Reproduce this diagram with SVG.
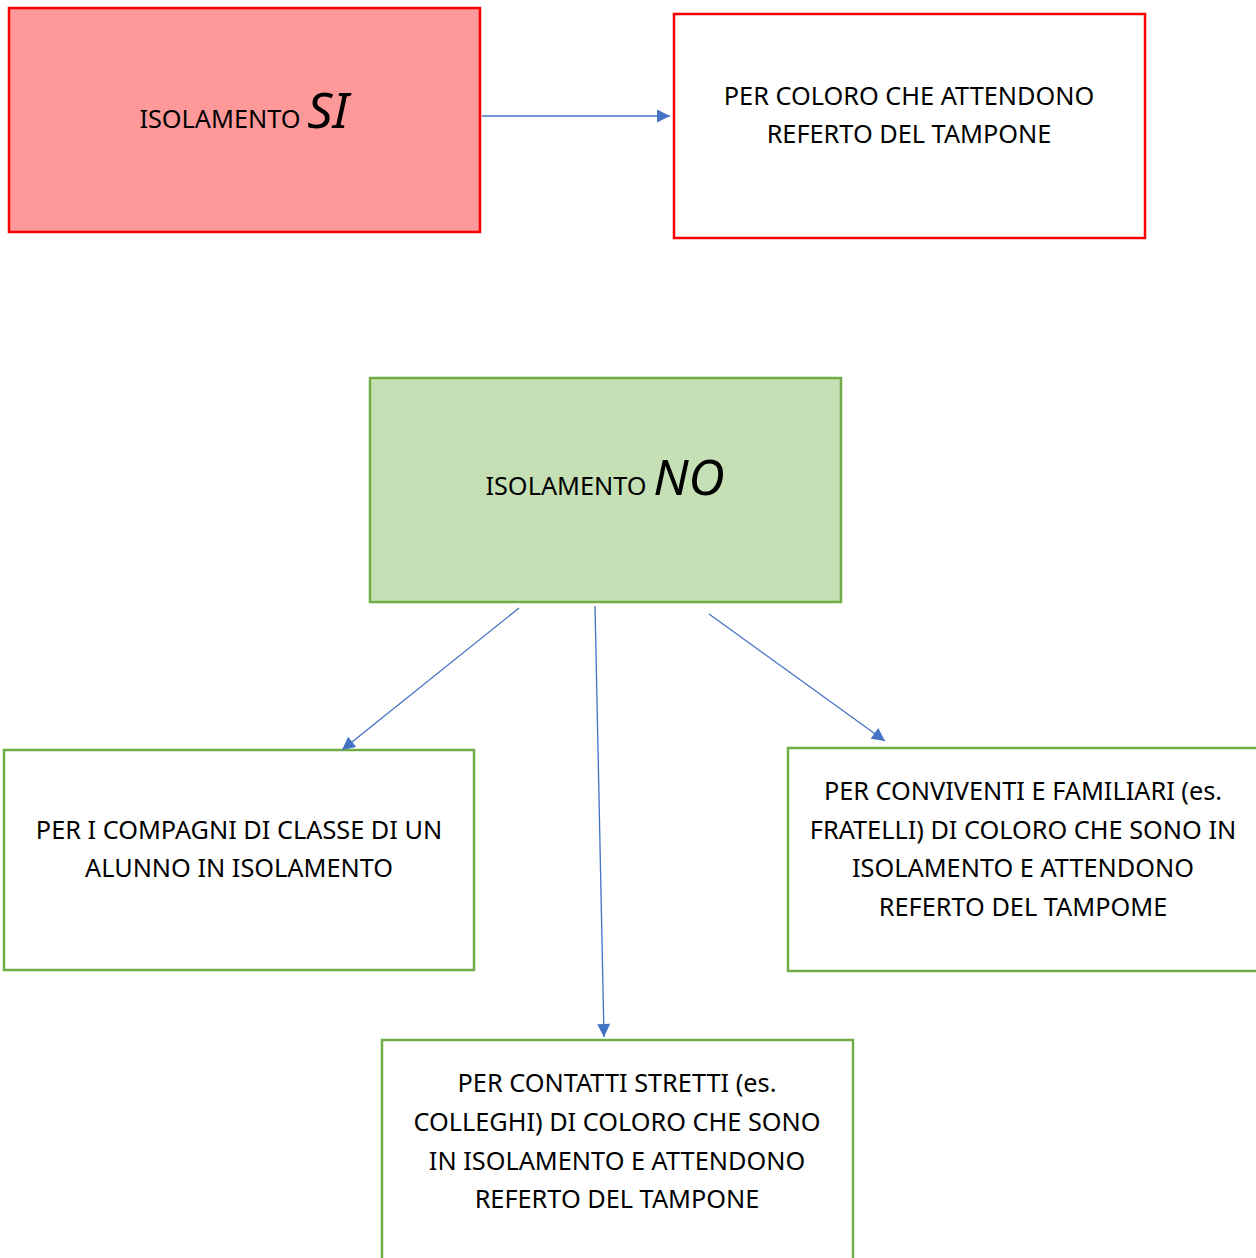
<svg xmlns="http://www.w3.org/2000/svg" width="1256" height="1258" viewBox="0 0 1256 1258">
<defs>
<marker id="ah" viewBox="0 0 10 10" refX="10" refY="5" markerWidth="15" markerHeight="13" markerUnits="userSpaceOnUse" orient="auto">
<path d="M0,0 L10,5 L0,10 z" fill="#4472C4"/>
</marker>
<style>
.red{stroke:#FF0000;stroke-width:2.5}
.grn{stroke:#70AD47;stroke-width:2.5}
.t{font-family:"Noto Sans","Liberation Sans",sans-serif;font-size:25.3px;fill:#000;text-anchor:middle}
.big{font-family:"Noto Sans","Liberation Sans",sans-serif;font-style:italic;font-size:50px}
.conn line{stroke:#4472C4;stroke-width:1.3;marker-end:url(#ah)}
</style>
</defs>
<rect width="1256" height="1258" fill="#fff"/>
<g id="si">
<rect x="9" y="8" width="471" height="224" fill="#FF9999" class="red"/>
<text x="244" y="128" class="t"><tspan>ISOLAMENTO </tspan><tspan class="big">SI</tspan></text>
</g>
<g id="si-ref">
<rect x="674" y="14" width="471" height="224" fill="#fff" class="red"/>
<text class="t"><tspan x="909" y="105">PER COLORO CHE ATTENDONO</tspan><tspan x="909" y="143">REFERTO DEL TAMPONE</tspan></text>
</g>
<g id="no">
<rect x="370" y="378" width="471" height="224" fill="#C5E0B4" class="grn"/>
<text x="605" y="495" class="t"><tspan>ISOLAMENTO </tspan><tspan class="big">NO</tspan></text>
</g>
<g id="compagni">
<rect x="4" y="750" width="470" height="220" fill="#fff" class="grn"/>
<text class="t"><tspan x="239" y="839">PER I COMPAGNI DI CLASSE DI UN</tspan><tspan x="239" y="877">ALUNNO IN ISOLAMENTO</tspan></text>
</g>
<g id="conviventi">
<rect x="788" y="748" width="480" height="223" fill="#fff" class="grn"/>
<text class="t"><tspan x="1023" y="800">PER CONVIVENTI E FAMILIARI (es.</tspan><tspan x="1023" y="839">FRATELLI) DI COLORO CHE SONO IN</tspan><tspan x="1023" y="877">ISOLAMENTO E ATTENDONO</tspan><tspan x="1023" y="916">REFERTO DEL TAMPOME</tspan></text>
</g>
<g id="contatti">
<rect x="382" y="1040" width="471" height="230" fill="#fff" class="grn"/>
<text class="t"><tspan x="617" y="1092">PER CONTATTI STRETTI (es.</tspan><tspan x="617" y="1131">COLLEGHI) DI COLORO CHE SONO</tspan><tspan x="617" y="1170">IN ISOLAMENTO E ATTENDONO</tspan><tspan x="617" y="1208">REFERTO DEL TAMPONE</tspan></text>
</g>
<g id="connectors" class="conn">
<line x1="482" y1="116" x2="670" y2="116"/>
<line x1="519" y1="608" x2="342" y2="750"/>
<line x1="595" y1="606" x2="604" y2="1037"/>
<line x1="709" y1="614" x2="885" y2="741"/>
</g>
</svg>
